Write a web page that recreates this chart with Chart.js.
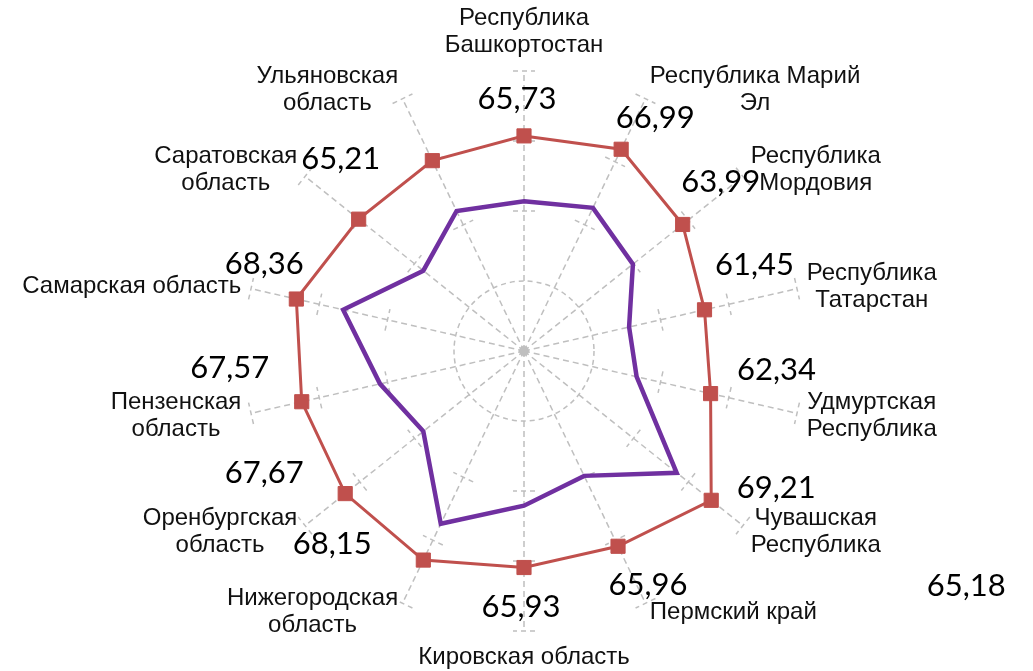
<!DOCTYPE html>
<html>
<head>
<meta charset="utf-8">
<script src="https://cdn.jsdelivr.net/npm/chart.js@4.4.1/dist/chart.umd.min.js"></script>
<style>
  html, body { margin: 0; padding: 0; background: #fff; }
</style>
</head>
<body>
<canvas id="radarPlot" width="1033" height="671"></canvas>
<script>
// categories, clockwise from the top
const categories = [
  ['Республика', 'Башкортостан'],
  ['Республика Марий', 'Эл'],
  ['Республика', 'Мордовия'],
  ['Республика', 'Татарстан'],
  ['Удмуртская', 'Республика'],
  ['Чувашская', 'Республика'],
  ['Пермский край'],
  ['Кировская область'],
  ['Нижегородская', 'область'],
  ['Оренбургская', 'область'],
  ['Пензенская', 'область'],
  ['Самарская область'],
  ['Саратовская', 'область'],
  ['Ульяновская', 'область']
];

// red series (labelled)
const redValues = [65.73, 66.99, 63.99, 61.45, 62.34, 69.21, 65.96, 65.93, 68.15, 67.67, 67.57, 68.36, 65.21, 65.18];
// purple series
const purpleValues = [56.4, 57.7, 54.9, 50.4, 51.5, 62.9, 54.8, 57.1, 62.4, 53.4, 56.1, 61.5, 53.4, 57.2];

// axis
const axisMin = 35;
const axisMax = 75;
const axisStep = 10;

// where each value label sits relative to its marker
const labelShift = [
  [-7, -37], [34, -31], [38, -42], [50, -45], [66, -24], [65, -12], [30, 39],
  [-3, 39], [-91, -16], [-81, -21], [-72, -34], [-32, -35], [-18, -60], [534, 425]
];

const gridGray = '#BFBFBF';

const radarDecor = {
  id: 'radarDecor',
  beforeDatasetsDraw(chart) {
    const scale = chart.scales.r;
    const ctx = chart.ctx;
    ctx.save();
    ctx.strokeStyle = gridGray;
    ctx.lineWidth = 1.5;
    ctx.setLineDash([5, 4]);
    // small cross marks on each spoke
    for (let i = 0; i < categories.length; i++) {
      for (let v = axisMin + 2 * axisStep; v <= axisMax; v += axisStep) {
        const p = scale.getPointPosition(i, scale.getDistanceFromCenterForValue(v));
        const px = -Math.sin(p.angle), py = Math.cos(p.angle);
        ctx.beginPath();
        ctx.moveTo(p.x - 11 * px, p.y - 11 * py);
        ctx.lineTo(p.x + 11 * px, p.y + 11 * py);
        ctx.stroke();
      }
    }
    ctx.setLineDash([]);
    ctx.fillStyle = gridGray;
    ctx.beginPath();
    ctx.arc(scale.xCenter, scale.yCenter, 5, 0, Math.PI * 2);
    ctx.fill();
    ctx.restore();
  },
  afterDraw(chart) {
    const scale = chart.scales.r;
    const ctx = chart.ctx;
    ctx.save();
    // category names
    ctx.fillStyle = '#111';
    ctx.font = '24px "Liberation Sans", Arial, sans-serif';
    ctx.textBaseline = 'middle';
    ctx.textAlign = 'center';
    const lineH = 27;
    categories.forEach((lines, i) => {
      const p = scale.getPointPosition(i, scale.drawingArea + 10);
      const w = Math.max(...lines.map(t => ctx.measureText(t).width));
      const n = lines.length;
      let cx, top;
      if (i === 0) {
        cx = p.x;
        top = p.y - 16 - (n - 1) * lineH;
      } else if (i === categories.length / 2) {
        cx = p.x;
        top = p.y + 16;
      } else {
        cx = i < categories.length / 2 ? p.x + w / 2 : p.x - w / 2;
        top = p.y - (n - 1) * lineH / 2;
      }
      lines.forEach((t, k) => ctx.fillText(t, cx, top + k * lineH));
    });
    // value labels of the red series
    const meta = chart.getDatasetMeta(0);
    ctx.fillStyle = '#000';
    ctx.font = '31px Lato, "Open Sans", sans-serif';
    meta.data.forEach((pt, i) => {
      const txt = redValues[i].toFixed(2).replace('.', ',');
      ctx.fillText(txt, pt.x + labelShift[i][0], pt.y + labelShift[i][1]);
    });
    ctx.restore();
  }
};

new Chart(document.getElementById('radarPlot'), {
  type: 'radar',
  data: {
    labels: categories,
    datasets: [{
      data: redValues,
      borderColor: '#C0504D',
      backgroundColor: '#C0504D',
      borderWidth: 3,
      fill: false,
      pointStyle: 'rect',
      pointRadius: 10,
      pointBorderWidth: 1,
      pointBackgroundColor: '#C0504D',
      pointBorderColor: '#C0504D'
    }, {
      data: purpleValues,
      borderColor: '#7030A0',
      backgroundColor: '#7030A0',
      borderWidth: 4.5,
      fill: false,
      pointRadius: 0
    }]
  },
  options: {
    responsive: false,
    animation: false,
    layout: { padding: { top: 71, bottom: 40, left: 15, right: 0 } },
    plugins: {
      legend: { display: false },
      tooltip: { enabled: false }
    },
    scales: {
      r: {
        min: axisMin,
        max: axisMax,
        ticks: { stepSize: axisStep, display: false },
        pointLabels: { display: false },
        angleLines: { color: gridGray, lineWidth: 1.5, borderDash: [6, 4] },
        grid: {
          circular: true,
          lineWidth: 1.5,
          color: c => (c.index === 1 ? gridGray : 'rgba(0,0,0,0)')
        },
        border: { dash: [5, 4] }
      }
    }
  },
  plugins: [radarDecor]
});
</script>
</body>
</html>
